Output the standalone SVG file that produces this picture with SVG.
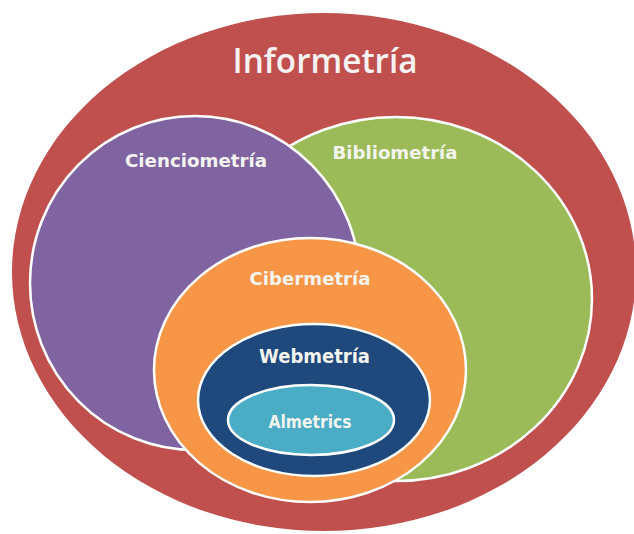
<svg xmlns="http://www.w3.org/2000/svg" width="634" height="534" viewBox="0 0 634 534">
  <style>
    .ring { stroke: #ffffff; stroke-width: 2.5; }
    .lbl { font-family: "DejaVu Sans", "Open Sans", sans-serif; font-weight: 700; fill: #f4f4ee; text-anchor: middle; }
    .title { font-family: "Open Sans", "DejaVu Sans", sans-serif; font-weight: 600; fill: #f6f2f2; text-anchor: middle; }
  </style>
  <rect width="634" height="534" fill="#ffffff"/>

  <!-- outer field -->
  <g id="informetria">
    <ellipse cx="324" cy="272" rx="312" ry="259" fill="#C0504D"/>
    <text class="title" x="325" y="73" font-size="34" textLength="185" lengthAdjust="spacingAndGlyphs">Informetría</text>
  </g>

  <g id="bibliometria">
    <ellipse class="ring" cx="396" cy="299" rx="196" ry="182" fill="#9BBB59"/>
    <text class="lbl" x="395" y="159" font-size="18" textLength="125" lengthAdjust="spacingAndGlyphs">Bibliometría</text>
  </g>

  <g id="cienciometria">
    <ellipse class="ring" cx="195" cy="283" rx="165" ry="167" fill="#8064A2"/>
    <text class="lbl" x="196" y="167" font-size="18" textLength="142" lengthAdjust="spacingAndGlyphs">Cienciometría</text>
  </g>

  <g id="cibermetria">
    <ellipse class="ring" cx="310" cy="370" rx="156" ry="132" fill="#F79646"/>
    <text class="lbl" x="310" y="285" font-size="18" textLength="121" lengthAdjust="spacingAndGlyphs">Cibermetría</text>
  </g>

  <g id="webmetria">
    <ellipse class="ring" cx="314" cy="400" rx="116" ry="76" fill="#1F497D"/>
    <text class="lbl" x="314.5" y="363" font-size="19" textLength="111" lengthAdjust="spacingAndGlyphs">Webmetría</text>
  </g>

  <g id="almetrics">
    <ellipse class="ring" cx="311" cy="420" rx="83" ry="35" fill="#4BACC6"/>
    <text class="lbl" x="310" y="428" font-size="17" textLength="83" lengthAdjust="spacingAndGlyphs">Almetrics</text>
  </g>

  <g id="connectors"/>
</svg>
